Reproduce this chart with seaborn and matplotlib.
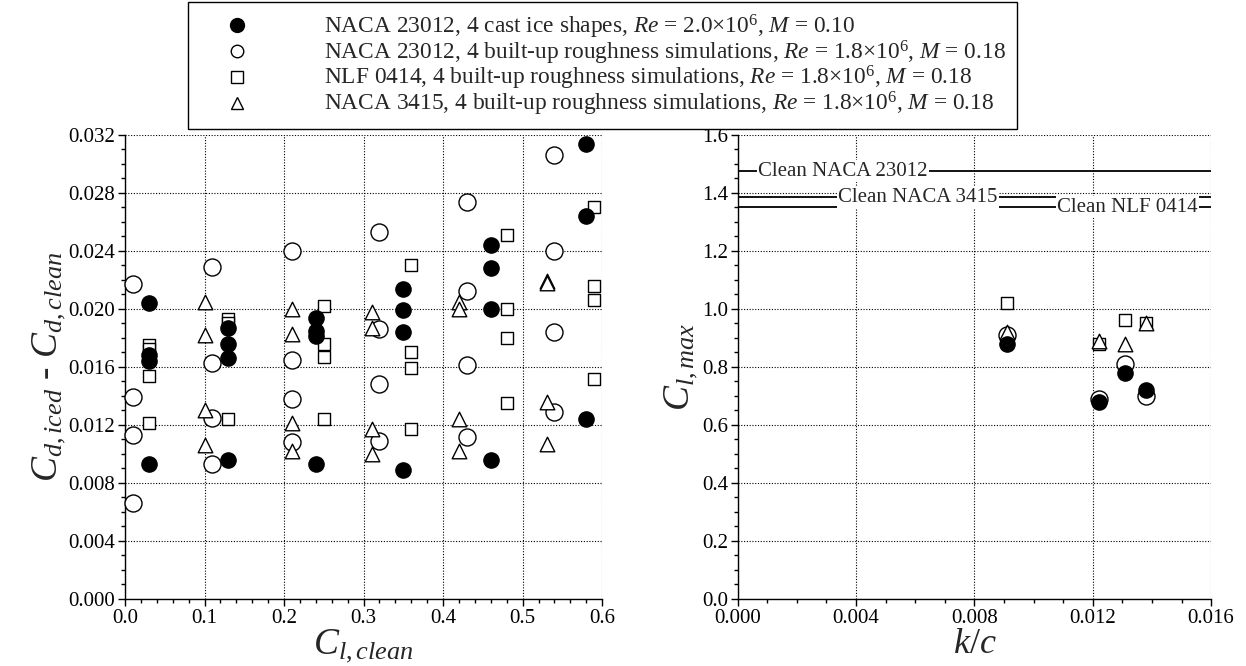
import numpy as np
import pandas as pd
import matplotlib
matplotlib.use("Agg")
import matplotlib.pyplot as plt
import seaborn as sns
from matplotlib.lines import Line2D
from matplotlib.ticker import MultipleLocator, FormatStrFormatter

# ---------------- data ----------------
# Left panel: Cd,iced - Cd,clean versus Cl,clean
cast_cl = [0.03, 0.03, 0.03, 0.03, 0.13, 0.13, 0.13, 0.13, 0.24, 0.24, 0.24, 0.24,
           0.35, 0.35, 0.35, 0.35, 0.46, 0.46, 0.46, 0.46, 0.58, 0.58, 0.58]
cast_dcd = [0.0204, 0.0168, 0.0164, 0.0093, 0.0187, 0.0176, 0.0166, 0.0096,
            0.0194, 0.0185, 0.0181, 0.0093, 0.0214, 0.0199, 0.0184, 0.0089,
            0.0244, 0.0228, 0.0200, 0.0096, 0.0314, 0.0264, 0.0124]

n23012_cl = [0.01, 0.01, 0.01, 0.01, 0.11, 0.11, 0.11, 0.11, 0.21, 0.21, 0.21, 0.21,
             0.32, 0.32, 0.32, 0.32, 0.43, 0.43, 0.43, 0.43, 0.54, 0.54, 0.54, 0.54]
n23012_dcd = [0.0217, 0.0139, 0.0113, 0.0066, 0.0229, 0.0163, 0.0125, 0.0093,
              0.0240, 0.0165, 0.0138, 0.0108, 0.0253, 0.0186, 0.0148, 0.0109,
              0.0274, 0.0212, 0.0161, 0.0112, 0.0306, 0.0240, 0.0184, 0.0129]

nlf_cl = [0.03, 0.03, 0.03, 0.03, 0.13, 0.13, 0.13, 0.25, 0.25, 0.25, 0.25,
          0.36, 0.36, 0.36, 0.36, 0.48, 0.48, 0.48, 0.48, 0.59, 0.59, 0.59, 0.59]
nlf_dcd = [0.0175, 0.0172, 0.0154, 0.0121, 0.0193, 0.0190, 0.0124,
           0.0202, 0.0176, 0.0167, 0.0124, 0.0230, 0.0170, 0.0159, 0.0117,
           0.0251, 0.0200, 0.0180, 0.0135, 0.0270, 0.0216, 0.0206, 0.0152]

n3415_cl = [0.10, 0.10, 0.10, 0.10, 0.21, 0.21, 0.21, 0.21, 0.31, 0.31, 0.31, 0.31,
            0.42, 0.42, 0.42, 0.42, 0.53, 0.53, 0.53, 0.53]
n3415_dcd = [0.0205, 0.0182, 0.0130, 0.0106, 0.0200, 0.0183, 0.0121, 0.0102,
             0.0198, 0.0187, 0.0117, 0.0100, 0.0205, 0.0200, 0.0124, 0.0102,
             0.0219, 0.0218, 0.0136, 0.0107]

# Right panel: Cl,max versus k/c
cast_kc = [0.0091, 0.0122, 0.0131, 0.0138]
cast_clmax = [0.88, 0.68, 0.78, 0.72]
n23012_kc = [0.0091, 0.0122, 0.0131, 0.0138]
n23012_clmax = [0.91, 0.69, 0.81, 0.70]
nlf_kc = [0.0091, 0.0122, 0.0131, 0.0138]
nlf_clmax = [1.02, 0.88, 0.96, 0.95]
n3415_kc = [0.0091, 0.0122, 0.0131, 0.0138]
n3415_clmax = [0.92, 0.89, 0.88, 0.95]

clean_names = ["Clean NACA 23012", "Clean NACA 3415", "Clean NLF 0414"]
clean_clmax = [1.475, 1.385, 1.35]
clean_label_x = [0.0007, 0.0034, 0.0108]

series_labels = [
    r"NACA 23012, 4 cast ice shapes, $Re$ = 2.0×10$^6$, $M$ = 0.10",
    r"NACA 23012, 4 built-up roughness simulations, $Re$ = 1.8×10$^6$, $M$ = 0.18",
    r"NLF 0414, 4 built-up roughness simulations, $Re$ = 1.8×10$^6$, $M$ = 0.18",
    r"NACA 3415, 4 built-up roughness simulations, $Re$ = 1.8×10$^6$, $M$ = 0.18",
]

# ---------------- style ----------------
sns.set_theme(style="white")
plt.rcParams["font.family"] = ["Liberation Serif", "DejaVu Serif"]
plt.rcParams["mathtext.fontset"] = "custom"
plt.rcParams["mathtext.rm"] = "Liberation Serif"
plt.rcParams["mathtext.it"] = "Liberation Serif:italic"
plt.rcParams["mathtext.bf"] = "Liberation Serif:bold"
plt.rcParams["axes.unicode_minus"] = False

styles = [
    dict(marker="o", facecolor="black", s=120),
    dict(marker="o", facecolor="white", s=150),
    dict(marker="s", facecolor="white", s=85),
    dict(marker="^", facecolor="white", s=110),
]
draw_order = [1, 2, 3, 0]

left_data = [(cast_cl, cast_dcd), (n23012_cl, n23012_dcd), (nlf_cl, nlf_dcd), (n3415_cl, n3415_dcd)]
right_data = [(cast_kc, cast_clmax), (n23012_kc, n23012_clmax), (nlf_kc, nlf_clmax), (n3415_kc, n3415_clmax)]

fig = plt.figure(figsize=(12.46, 6.66), dpi=100)
axL = fig.add_axes([0.1003, 0.1006, 0.383, 0.697])
axR = fig.add_axes([0.592, 0.1006, 0.380, 0.697])

for idx in draw_order:
    st = styles[idx]
    x, y = left_data[idx]
    df = pd.DataFrame({"x": x, "y": y})
    sns.scatterplot(data=df, x="x", y="y", ax=axL, marker=st["marker"], s=st["s"],
                    facecolor=st["facecolor"], edgecolor="black", linewidth=1.0,
                    legend=False, zorder=3, clip_on=False)
    x, y = right_data[idx]
    df = pd.DataFrame({"x": x, "y": y})
    sns.scatterplot(data=df, x="x", y="y", ax=axR, marker=st["marker"], s=st["s"],
                    facecolor=st["facecolor"], edgecolor="black", linewidth=1.0,
                    legend=False, zorder=3, clip_on=False)

# clean lines with inline labels
for name, val, lx in zip(clean_names, clean_clmax, clean_label_x):
    axR.axhline(val, color="black", lw=1.3, zorder=2)
    axR.text(lx, val, name, ha="left", va="center", fontsize=15, zorder=2.5,
             bbox=dict(facecolor="white", edgecolor="none", pad=1.0))

def style_axes(ax, xlim, ylim, xmaj, xmin, ymaj, ymin, xfmt, yfmt):
    ax.set_xlim(*xlim)
    ax.set_ylim(*ylim)
    ax.xaxis.set_major_locator(MultipleLocator(xmaj))
    ax.xaxis.set_minor_locator(MultipleLocator(xmin))
    ax.yaxis.set_major_locator(MultipleLocator(ymaj))
    ax.yaxis.set_minor_locator(MultipleLocator(ymin))
    ax.xaxis.set_major_formatter(FormatStrFormatter(xfmt))
    ax.yaxis.set_major_formatter(FormatStrFormatter(yfmt))
    ax.grid(True, which="major", color="black", linestyle=(0, (1, 1.5)), linewidth=0.8)
    for sp in ["top", "right"]:
        ax.spines[sp].set_visible(False)
    for sp in ["left", "bottom"]:
        ax.spines[sp].set_color("black")
        ax.spines[sp].set_linewidth(1.0)
    ax.tick_params(which="major", direction="out", length=5, width=1.0, color="black",
                   labelsize=15, labelcolor="black", pad=2, bottom=True, left=True)
    ax.tick_params(which="minor", direction="out", length=3, width=1.0, color="black",
                   bottom=True, left=True)
    ax.set_axisbelow(True)

style_axes(axL, (0, 0.6), (0, 0.032), 0.1, 0.02, 0.004, 0.001, "%.1f", "%.3f")
style_axes(axR, (0, 0.016), (0, 1.6), 0.004, 0.001, 0.2, 0.05, "%.3f", "%.1f")

axL.set_xlabel(r"$C_{l,clean}$", fontsize=27, labelpad=0)
axL.set_ylabel(r"$C_{d,iced}$ - $C_{d,clean}$", fontsize=27, labelpad=0)
axR.set_xlabel(r"$k/c$", fontsize=26, labelpad=0)
axR.set_ylabel(r"$C_{l,max}$", fontsize=27, labelpad=1)

handles = []
for st in styles:
    handles.append(Line2D([], [], linestyle="none", marker=st["marker"],
                          markerfacecolor=st["facecolor"], markeredgecolor="black",
                          markersize=10 if st["facecolor"] == "black" else 9,
                          markeredgewidth=1.0))
leg_fs = 16.8
leg = fig.legend(handles, series_labels, loc="upper left",
                 bbox_to_anchor=(188 / 1246, 1 - 2 / 666),
                 frameon=True, fancybox=False, framealpha=1, edgecolor="black",
                 fontsize=leg_fs, handletextpad=2.1, borderpad=0.45, labelspacing=-0.1,
                 handlelength=3.3, borderaxespad=0)
leg.get_frame().set_linewidth(1.0)

fig.savefig("out.png", dpi=100)
